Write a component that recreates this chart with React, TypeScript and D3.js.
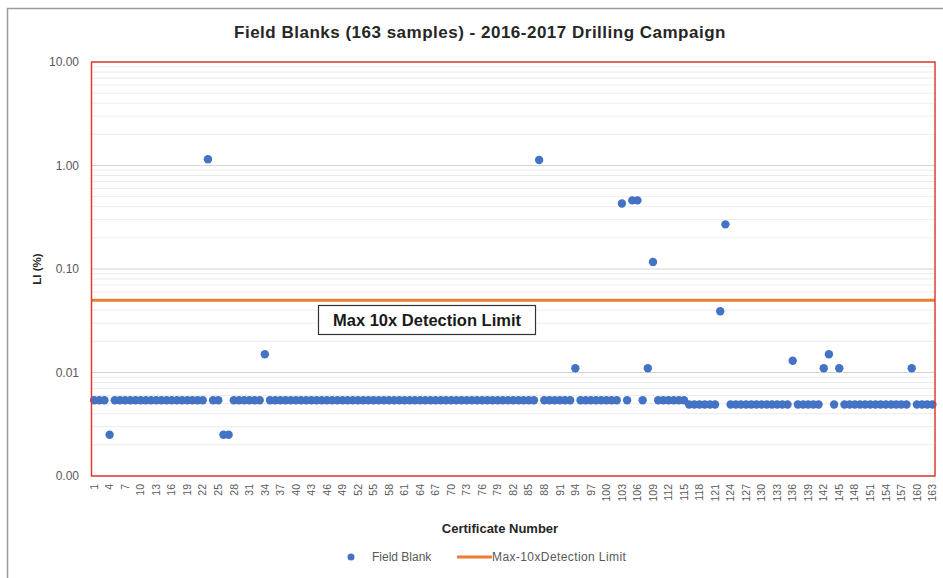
import React from 'react';
import * as d3 from 'd3';

// Li (%) per field blank, certificate 1..163
const liValues = [
  0.0054, 0.0054, 0.0054, 0.0025, 0.0054, 0.0054, 0.0054, 0.0054, 0.0054, 0.0054,
  0.0054, 0.0054, 0.0054, 0.0054, 0.0054, 0.0054, 0.0054, 0.0054, 0.0054, 0.0054,
  0.0054, 0.0054, 1.15, 0.0054, 0.0054, 0.0025, 0.0025, 0.0054, 0.0054, 0.0054,
  0.0054, 0.0054, 0.0054, 0.015, 0.0054, 0.0054, 0.0054, 0.0054, 0.0054, 0.0054,
  0.0054, 0.0054, 0.0054, 0.0054, 0.0054, 0.0054, 0.0054, 0.0054, 0.0054, 0.0054,
  0.0054, 0.0054, 0.0054, 0.0054, 0.0054, 0.0054, 0.0054, 0.0054, 0.0054, 0.0054,
  0.0054, 0.0054, 0.0054, 0.0054, 0.0054, 0.0054, 0.0054, 0.0054, 0.0054, 0.0054,
  0.0054, 0.0054, 0.0054, 0.0054, 0.0054, 0.0054, 0.0054, 0.0054, 0.0054, 0.0054,
  0.0054, 0.0054, 0.0054, 0.0054, 0.0054, 0.0054, 1.13, 0.0054, 0.0054, 0.0054,
  0.0054, 0.0054, 0.0054, 0.011, 0.0054, 0.0054, 0.0054, 0.0054, 0.0054, 0.0054,
  0.0054, 0.0054, 0.43, 0.0054, 0.46, 0.46, 0.0054, 0.011, 0.117, 0.0054,
  0.0054, 0.0054, 0.0054, 0.0054, 0.0054, 0.0049, 0.0049, 0.0049, 0.0049, 0.0049,
  0.0049, 0.039, 0.27, 0.0049, 0.0049, 0.0049, 0.0049, 0.0049, 0.0049, 0.0049,
  0.0049, 0.0049, 0.0049, 0.0049, 0.0049, 0.013, 0.0049, 0.0049, 0.0049, 0.0049,
  0.0049, 0.011, 0.015, 0.0049, 0.011, 0.0049, 0.0049, 0.0049, 0.0049, 0.0049,
  0.0049, 0.0049, 0.0049, 0.0049, 0.0049, 0.0049, 0.0049, 0.0049, 0.011, 0.0049,
  0.0049, 0.0049, 0.0049,
];
const certificates = liValues.map((_, i) => i + 1);
const yTickValues = [0.001, 0.01, 0.1, 1, 10];
const detectionLimit = 0.05;

const W = 943;
const H = 578;
const plot = { left: 91.5, right: 935, top: 62, bottom: 476 };
const font = 'Arial, "Liberation Sans", sans-serif';
const grey = '#595959';

export default function App() {
  const x = d3
    .scaleBand<number>()
    .domain(certificates)
    .range([plot.left, plot.right])
    .padding(0);
  const y = d3.scaleLog().domain([0.001, 10]).range([plot.bottom, plot.top]);
  const cx = (c: number) => (x(c) as number) + x.bandwidth() / 2;
  const fmt = d3.format('.2f');

  // minor gridlines (2..9 in each decade)
  const minor: number[] = [];
  for (let k = 0; k < yTickValues.length - 1; k++) {
    for (let m = 2; m <= 9; m++) minor.push(yTickValues[k] * m);
  }
  const xLabels = certificates.filter((c) => (c - 1) % 3 === 0);

  return (
    <div style={{ position: 'absolute', left: 0, top: 0 }}>
      <svg width={W} height={H} style={{ display: 'block', background: '#fff' }}>
        <rect x={7.5} y={8.5} width={W} height={H} fill="#fff" stroke="#9a9a9a" strokeWidth={1.5} />

        <text x={480} y={38} textAnchor="middle" fontFamily={font} fontWeight="bold" fontSize={17} letterSpacing={0.5} fill="#262626">
          Field Blanks (163 samples) - 2016-2017 Drilling Campaign
        </text>

        {minor.map((v) => (
          <line key={'m' + v} x1={plot.left} x2={plot.right} y1={y(v)} y2={y(v)} stroke="#ececec" strokeWidth={1} />
        ))}
        {yTickValues.map((v) => (
          <line key={'g' + v} x1={plot.left} x2={plot.right} y1={y(v)} y2={y(v)} stroke="#d4d4d4" strokeWidth={1.2} />
        ))}
        {yTickValues.map((v) => (
          <text key={'t' + v} x={79} y={y(v) + 4} textAnchor="end" fontFamily={font} fontSize={12} fill={grey}>
            {fmt(v)}
          </text>
        ))}

        <line x1={plot.left} x2={plot.right} y1={y(detectionLimit)} y2={y(detectionLimit)} stroke="#ED7D31" strokeWidth={3} />

        {certificates.map((c, i) => (
          <circle key={c} cx={cx(c)} cy={y(liValues[i])} r={4.2} fill="#4472C4" />
        ))}

        <rect x={plot.left} y={plot.top} width={plot.right - plot.left} height={plot.bottom - plot.top} fill="none" stroke="#e03c31" strokeWidth={1.5} />

        {xLabels.map((c) => (
          <text
            key={'x' + c}
            transform={`translate(${cx(c) + 3.7},${plot.bottom + 8}) rotate(-90)`}
            textAnchor="end"
            fontFamily={font}
            fontSize={10.5}
            fill={grey}
          >
            {c}
          </text>
        ))}

        <rect x={318.5} y={305.5} width={217} height={29} fill="#fff" stroke="#333" strokeWidth={1.2} />
        <text x={427} y={326} textAnchor="middle" fontFamily={font} fontWeight="bold" fontSize={16.5} fill="#1a1a1a">
          Max 10x Detection Limit
        </text>

        <text transform={`translate(41,${(plot.top + plot.bottom) / 2}) rotate(-90)`} textAnchor="middle" fontFamily={font} fontWeight="bold" fontSize={11.5} fill="#262626">
          LI (%)
        </text>
        <text x={500} y={533} textAnchor="middle" fontFamily={font} fontWeight="bold" fontSize={13} fill="#262626">
          Certificate Number
        </text>

        <circle cx={351} cy={557} r={3.5} fill="#4472C4" />
        <text x={372} y={561} fontFamily={font} fontSize={12} fill={grey}>Field Blank</text>
        <line x1={457} x2={492} y1={557} y2={557} stroke="#ED7D31" strokeWidth={3} />
        <text x={492} y={561} fontFamily={font} fontSize={12} letterSpacing={0.4} fill={grey}>Max-10xDetection Limit</text>
      </svg>
    </div>
  );
}
